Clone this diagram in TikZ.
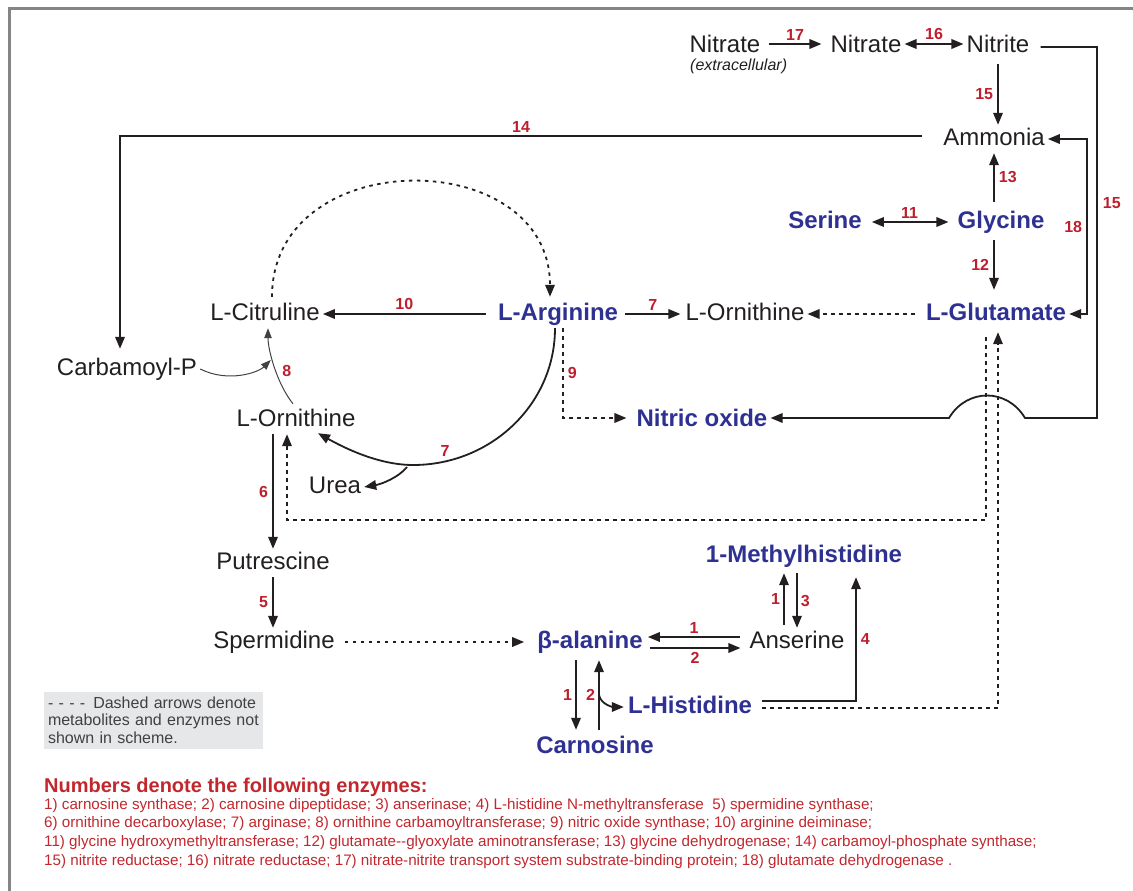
\documentclass[tikz,border=0pt]{standalone}
\usepackage{fontspec}
\setmainfont{Liberation Sans}
\usepackage{xcolor}
\usepackage{tikz}
\usetikzlibrary{positioning,arrows.meta,calc}
\definecolor{ink}{HTML}{231F20}
\definecolor{navy}{HTML}{2E3192}
\definecolor{enz}{HTML}{BE1E2D}
\definecolor{legred}{HTML}{C1272D}
\definecolor{boxgray}{HTML}{E6E7E8}
\definecolor{legtext}{HTML}{414042}
\definecolor{rimgray}{HTML}{858585}

\begin{document}
\begin{tikzpicture}[x=1pt,y=-1pt,
  met/.style={font=\fontsize{24}{28}\selectfont,text=ink,inner sep=3pt,text height=17pt,text depth=5pt},
  hub/.style={met,font=\fontsize{24}{28}\selectfont\bfseries,text=navy},
  num/.style={font=\fontsize{16}{18}\selectfont\bfseries,text=enz,inner sep=2pt},
  rxn/.style={draw=ink,line width=1.8pt,-{Triangle[length=12pt,width=9.5pt]}},
  rev/.style={rxn,{Triangle[length=12pt,width=9.5pt]}-{Triangle[length=12pt,width=9.5pt]}},
  hint/.style={draw=ink,line width=1.8pt,dash pattern=on 3.5pt off 4.5pt,-{Triangle[length=12pt,width=9.5pt]}},
  side/.style={draw=ink!85,line width=1pt,-{Triangle[length=10pt,width=7.5pt]}},
  legbox/.style={fill=boxgray,text=legtext,font=\fontsize{16}{17.5}\selectfont,minimum width=219pt,minimum height=57pt,text width=211pt,align=left,inner sep=4pt}]
  \useasboundingbox (0,0) rectangle (1133,891);
  \draw[rimgray,line width=3pt] (9,891) -- (9,9) -- (1133,9);

  \node[met] (nitex) at (725,47) {Nitrate};
  \node[font=\fontsize{16}{18}\selectfont\itshape,text=ink,anchor=north west,inner sep=0pt] (extra) at (690,59) {(extracellular)};
  \node[met] (nitin) at (866,47) {Nitrate};
  \node[met] (nitri) at (998,47) {Nitrite};
  \node[met] (ammon) at (994,139) {Ammonia};
  \node[hub] (ser) at (825,222) {Serine};
  \node[hub] (glyc) at (1001,222) {Glycine};
  \node[met] (cit) at (265,314) {L-Citruline};
  \node[hub] (arg) at (558,314) {L-Arginine};
  \node[met] (ornr) at (745,314) {L-Ornithine};
  \node[hub] (glu) at (996,314) {L-Glutamate};
  \node[met] (carb) at (127,369) {Carbamoyl-P};
  \node[met] (ornl) at (296,420) {L-Ornithine};
  \node[hub] (no) at (702,420) {Nitric oxide};
  \node[met] (urea) at (335,487) {Urea};
  \node[met] (put) at (273,563) {Putrescine};
  \node[met] (spd) at (274,642) {Spermidine};
  \node[hub] (bala) at (590,642) {β-alanine};
  \node[met] (ans) at (797,642) {Anserine};
  \node[hub] (mhis) at (804,556) {1-Methylhistidine};
  \node[hub] (his) at (690,707) {L-Histidine};
  \node[hub] (carn) at (595,747) {Carnosine};

  \draw[rxn] ([xshift=5pt,yshift=3pt]nitex.east) -- ([xshift=-6pt,yshift=3pt]nitin.west) node[num,midway,above=1pt] (e17) {17};
  \draw[rev] ([yshift=3pt]nitin.east) -- ([yshift=3pt]nitri.west) node[num,midway,above=1pt] (e16) {16};
  \draw[rxn] ([yshift=-3pt]nitri.south) -- (nitri.south |- ammon.north) node[num,midway,left=2pt] (e15a) {15};
  \coordinate (nr) at (1097,47);
  \coordinate (hopr) at (1025,418);
  \coordinate (hopl) at (949,418);
  \draw[rxn] ([xshift=8pt]nitri.east) -- (nr) -- (nr |- hopr) node[num,pos=0.42,right=3pt] (e15b) {15}
    -- (hopr) .. controls (1007,388) and (967,388) .. (hopl) -- (hopl -| no.east);
  \draw[rxn] ([xshift=-18pt,yshift=3pt]ammon.west) -| ([xshift=-7pt,yshift=6pt]carb.north) node[num,pos=0.25,above=1pt] (e14) {14};
  \coordinate (gdh) at (1087,0);
  \draw[rev] (ammon.east) -- (ammon.east -| gdh) |- (glu.east) node[num,pos=0.25,left=2pt] (e18) {18};
  \draw[rxn] ($(ammon.south |- glyc.north)+(0,-6)$) -- (ammon.south) node[num,midway,right=2pt] (e13) {13};
  \draw[rxn] ($(ammon.south |- glyc.south)+(0,4)$) -- ($(ammon.south |- glu.north)+(0,-10)$) node[num,midway,left=2pt] (e12) {12};
  \draw[rev,shorten <=7pt,shorten >=6pt] (ser) -- (glyc) node[num,midway,above=1pt] (e11) {11};

  \draw[hint] ([xshift=-8pt]glu.west) -- (glu.west -| ornr.east);
  \draw[rxn] ([xshift=4pt]arg.east) -- ([xshift=-2pt]ornr.west) node[num,midway,above=1pt] (e7a) {7};
  \draw[rxn] ([xshift=-9pt]arg.west) -- (cit.east) node[num,midway,above=1pt] (e10) {10};
  \draw[hint] ([xshift=7pt,yshift=3pt]cit.north) .. controls +(0,-153) and +(0,-153) .. ([xshift=-8pt,yshift=3pt]arg.north);
  \coordinate (cyc) at (413,465);
  \draw[rxn] ([xshift=-3pt]arg.south) .. controls +(0,76) and +(78,0) .. (cyc)
    .. controls +(-35,0) and +(25,14) .. ([xshift=22pt,yshift=1pt]ornl.south);
  \node[num] (e7b) at (445,451) {7};
  \draw[rxn] ([xshift=-6pt,yshift=-2pt]cyc) .. controls +(-8,10) and +(18,-3) .. (urea.east);
  \draw[side] ([xshift=-3pt,yshift=2pt]ornl.north) .. controls +(-16,-20) and +(0,22) .. ([xshift=3pt]cit.south)
    coordinate[pos=0.6] (j8) node[num,pos=0.45,right=4pt] (e8) {8};
  \draw[side,shorten >=2pt] (carb.east) .. controls +(28,14) and +(-14,14) .. (j8);
  \draw[hint] ([xshift=5pt]arg.south) |- ([xshift=-7pt,yshift=2pt]no.west) node[num,pos=0.25,right=2pt] (e9) {9};

  \draw[rxn] (put.north |- ornl.south) -- (put.north) node[num,midway,left=2pt] (e6) {6};
  \coordinate (ret) at (287,520);
  \draw[hint] ([xshift=-10pt,yshift=-9pt]glu.south) |- (ret) -- (ret |- ornl.south);
  \draw[hint] ([xshift=7pt,yshift=-1pt]his.east) -| ([xshift=2pt,yshift=-4pt]glu.south);
  \draw[rxn] (put.south) -- (put.south |- spd.north) node[num,midway,left=2pt] (e5) {5};
  \draw[hint] ([xshift=7pt]spd.east) -- ([xshift=-10pt]bala.west);

  \draw[rxn] ([xshift=-6pt,yshift=5pt]ans.west) -- ([xshift=2pt,yshift=5pt]bala.east) node[num,midway,above=1pt] (e1a) {1};
  \draw[rxn] ([xshift=4pt,yshift=-6pt]bala.east) -- ([xshift=-6pt,yshift=-6pt]ans.west) node[num,midway,below=1pt] (e2a) {2};
  \draw[rxn] ($(ans.north)+(-13,-3)$) -- ($(ans.north |- mhis.south)+(-13,3)$) node[num,midway,left=1pt] (e1b) {1};
  \draw[rxn] ($(ans.north |- mhis.south)+(0,3)$) -- (ans.north) node[num,midway,right=1pt] (e3) {3};
  \draw[rxn] ([xshift=7pt,yshift=6pt]his.east) -| ($(mhis.south)+(52,7)$) node[num,pos=0.75,right=2pt] (e4) {4};
  \draw[rxn] ($(bala.south)+(-14,4)$) -- ($(bala.south |- carn.north)+(-14,-3)$) node[num,midway,left=1pt] (e1c) {1};
  \draw[rxn] ($(bala.south |- carn.north)+(9,-3)$) -- ($(bala.south)+(9,4)$)
    coordinate[pos=0.5] (j2) node[num,pos=0.5,left=1pt] (e2c) {2};
  \draw[rxn] (j2) .. controls +(2,10) and +(-10,0) .. ([xshift=-1pt]his.west);

  \node[legbox] (legend) at (153.5,720) {- - - -\enspace Dashed arrows denote\\metabolites and enzymes not\\shown in scheme.};
  \node[anchor=base west,font=\fontsize{20}{24}\selectfont\bfseries,text=legred,inner sep=0pt,text depth=0pt] (enzhead) at (44,792) {Numbers denote the following enzymes:};
  \node[anchor=north west,align=left,font=\fontsize{15.2}{18.7}\selectfont,text=legred,inner sep=0pt] (enzlist) at (44,798)
    {1) carnosine synthase; 2) carnosine dipeptidase; 3) anserinase; 4) L-histidine N-methyltransferase~ 5) spermidine synthase;\\
     6) ornithine decarboxylase; 7) arginase; 8) ornithine carbamoyltransferase; 9) nitric oxide synthase; 10) arginine deiminase;\\
     11) glycine hydroxymethyltransferase; 12) glutamate-{}-glyoxylate aminotransferase; 13) glycine dehydrogenase; 14) carbamoyl-phosphate synthase;\\
     15) nitrite reductase; 16) nitrate reductase; 17) nitrate-nitrite transport system substrate-binding protein; 18) glutamate dehydrogenase .};
\end{tikzpicture}
\end{document}
